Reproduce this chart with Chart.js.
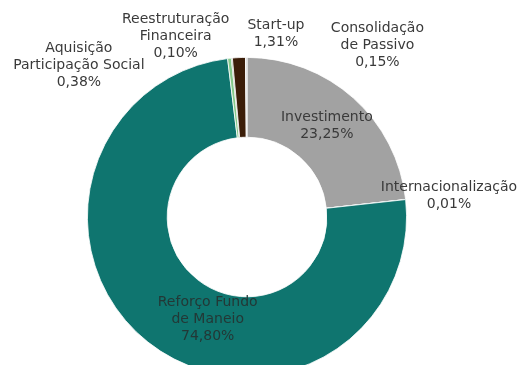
<!DOCTYPE html>
<html>
<head>
<meta charset="utf-8">
<script src="https://cdn.jsdelivr.net/npm/chart.js@4/dist/chart.umd.min.js"></script>
<style>
    html, body { margin: 0; padding: 0; background: #fff; overflow: hidden; }
    #wrap { position: relative; width: 519px; height: 434px; }
</style>
</head>
<body>
<div id="wrap"><canvas id="myChart"></canvas></div>
<script>
// Linhas de crédito (percentagem), a partir do topo no sentido horário
const categorias = [
    ['Investimento'],
    ['Internacionalização'],
    ['Reforço Fundo', 'de Maneio'],
    ['Aquisição', 'Participação Social'],
    ['Reestruturação', 'Financeira'],
    ['Start-up'],
    ['Consolidação', 'de Passivo']
];
const valores = [23.25, 0.01, 74.80, 0.38, 0.10, 1.31, 0.15];
const etiquetas = ['23,25%', '0,01%', '74,80%', '0,38%', '0,10%', '1,31%', '0,15%'];

const cores = ['#a2a2a2', '#4aa3a0', '#0f756f', '#86c98a', '#3f5a2a', '#3b1d08', '#d0d0d0'];

// deslocamento de cada etiqueta em relação ao centro da fatia
const desvios = [
    [0, -2], [83, -8], [35, 9], [-155, -33], [-60, -61], [35, -64], [131, -52]
];

const etiquetasPlugin = {
    id: 'etiquetas',
    afterDatasetsDraw(chart) {
        const ctx = chart.ctx;
        const meta = chart.getDatasetMeta(0);
        ctx.save();
        ctx.font = '14px "DejaVu Sans", Verdana, sans-serif';
        ctx.textAlign = 'center';
        ctx.textBaseline = 'middle';
        const alturaLinha = 17;
        meta.data.forEach((arc, i) => {
            const p = arc.tooltipPosition();
            const linhas = categorias[i].concat([etiquetas[i]]);
            const cx = p.x + desvios[i][0];
            const cy = p.y + desvios[i][1];
            const topo = cy - (linhas.length - 1) * alturaLinha / 2;
            // texto sobre o verde-azulado fica mais escuro
            ctx.fillStyle = i === 2 ? '#233836' : '#3a3a3a';
            linhas.forEach((t, j) => ctx.fillText(t, cx, topo + j * alturaLinha));
        });
        ctx.restore();
    }
};

const ctx = document.getElementById('myChart').getContext('2d');
new Chart(ctx, {
    type: 'doughnut',
    data: {
        labels: categorias.map(c => c.join(' ')),
        datasets: [{
            data: valores,
            backgroundColor: cores,
            borderColor: '#ffffff',
            borderWidth: 0.8
        }]
    },
    options: {
        responsive: true,
        maintainAspectRatio: false,
        animation: false,
        cutout: '50%',
        layout: {
            padding: { top: 57, bottom: 57, left: 87, right: 112 }
        },
        plugins: {
            legend: { display: false },
            tooltip: { enabled: false }
        }
    },
    plugins: [etiquetasPlugin]
});
</script>
</body>
</html>
